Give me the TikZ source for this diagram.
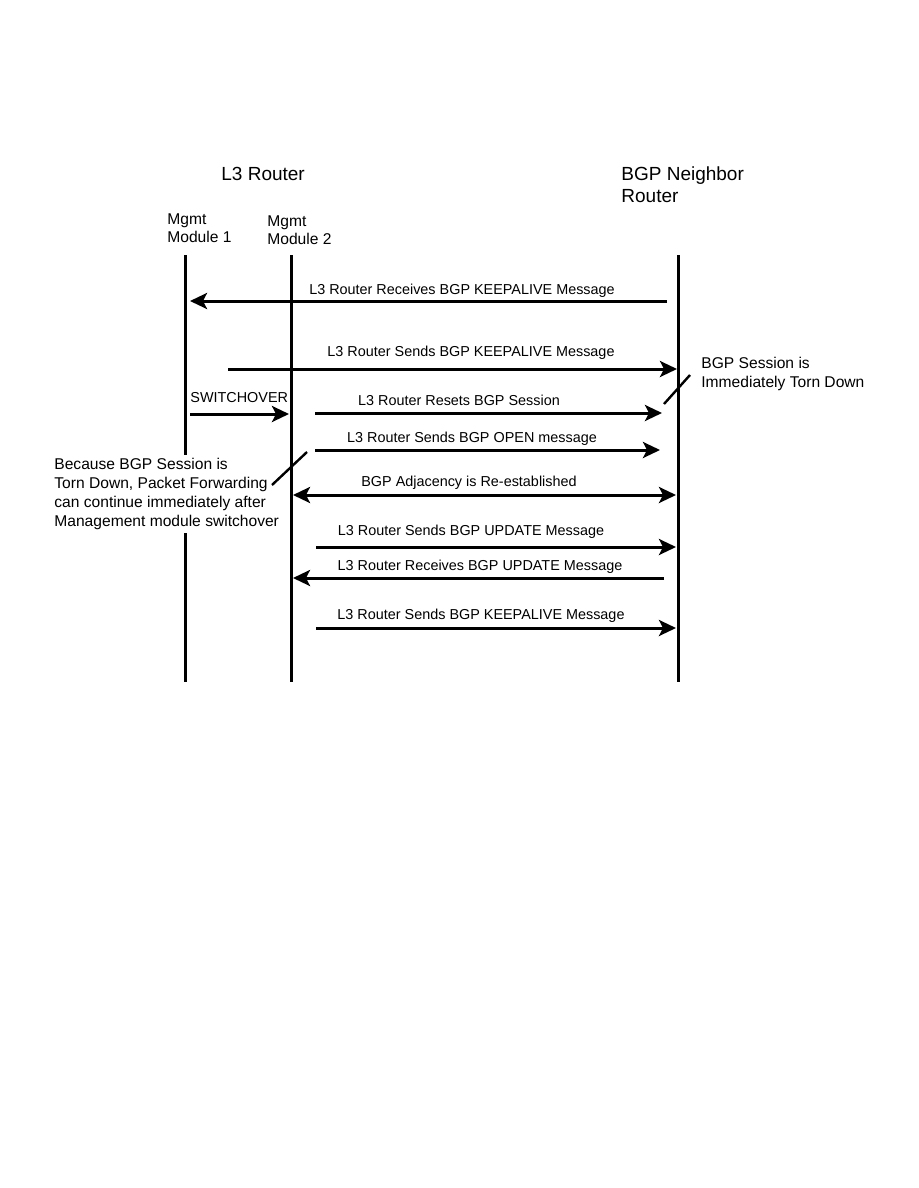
\documentclass[tikz,border=0pt]{standalone}
\usepackage{fontspec}
\setmainfont{Liberation Sans}
\usetikzlibrary{arrows.meta}
\tikzset{
  sq/.style={x=0.5pt, y=-0.5pt},
  s head/.style={anchor=north west, inner sep=0pt, align=left, font=\fontsize{9.5}{11}\selectfont},
  s mod/.style={anchor=north west, inner sep=0pt, align=left, font=\fontsize{7.8}{9}\selectfont},
  s life/.style={line width=1.5pt},
  s msg/.style={line width=1.5pt, -{Stealth[length=8.5pt, width=8pt, inset=2pt]}},
  s both/.style={s msg, {Stealth[length=8.5pt, width=8pt, inset=2pt]}-{Stealth[length=8.5pt, width=8pt, inset=2pt]}},
  s lab/.style={anchor=base, inner sep=0pt, font=\fontsize{7.2}{9}\selectfont},
  s note/.style={anchor=north west, align=left, font=\fontsize{7.8}{9.5}\selectfont},
  s tick/.style={line width=1.2pt},
}
\begin{document}
\begin{tikzpicture}[sq]
\useasboundingbox (0,0) rectangle (918,1188);
% ---- headers ----
\node[s head] (l3r) at (221,167) {L3 Router};
\node[s head] (nbr) at (621,166) {BGP Neighbor\\Router};
\node[s mod] (m1) at (167,213) {Mgmt\\Module 1};
\node[s mod] (m2) at (267,215) {Mgmt\\Module 2};
% ---- lifelines ----
\coordinate (m1t) at (185,255); \coordinate (m1b) at (185,682);
\coordinate (m2t) at (291,255); \coordinate (m2b) at (291,682);
\coordinate (nbt) at (678,255); \coordinate (nbb) at (678,682);
\draw[s life] (m1t)--(m1b); \draw[s life] (m2t)--(m2b); \draw[s life] (nbt)--(nbb);
% ---- keepalive in / out ----
\coordinate (k1a) at (667,301); \coordinate (k1b) at (190,301);
\draw[s msg] (k1a)--(k1b); \node[s lab] (k1) at (462,294) {L3 Router Receives BGP KEEPALIVE Message};
\coordinate (k2a) at (228,369); \coordinate (k2b) at (677,369);
\draw[s msg] (k2a)--(k2b); \node[s lab] (k2) at (471,356) {L3 Router Sends BGP KEEPALIVE Message};
% ---- switchover ----
\coordinate (swa) at (190,414); \coordinate (swb) at (289,414);
\draw[s msg] (swa)--(swb); \node[s lab, anchor=base west] (sw) at (190,402) {SWITCHOVER};
\coordinate (rsa) at (315,413); \coordinate (rsb) at (662,413);
\draw[s msg] (rsa)--(rsb); \node[s lab] (rs) at (459,405) {L3 Router Resets BGP Session};
\coordinate (opa) at (315,450); \coordinate (opb) at (660,450);
\draw[s msg] (opa)--(opb); \node[s lab] (op) at (472,442) {L3 Router Sends BGP OPEN message};
% ---- adjacency and updates ----
\coordinate (adja) at (293,495); \coordinate (adjb) at (676,495);
\draw[s both] (adja)--(adjb); \node[s lab] (adj) at (469,486) {BGP Adjacency is Re-established};
\coordinate (u1a) at (316,547); \coordinate (u1b) at (676,547);
\draw[s msg] (u1a)--(u1b); \node[s lab] (u1) at (471,535) {L3 Router Sends BGP UPDATE Message};
\coordinate (u2a) at (664,578); \coordinate (u2b) at (293,578);
\draw[s msg] (u2a)--(u2b); \node[s lab] (u2) at (480,570) {L3 Router Receives BGP UPDATE Message};
\coordinate (k3a) at (316,628); \coordinate (k3b) at (676,628);
\draw[s msg] (k3a)--(k3b); \node[s lab] (k3) at (481,619) {L3 Router Sends BGP KEEPALIVE Message};
% ---- notes ----
\node[s note, fill=white, inner sep=1.5pt] (why) at (51,455)
  {Because BGP Session is\\Torn Down, Packet Forwarding\\can continue immediately after\\Management module switchover};
\coordinate (w1) at (272,485); \coordinate (w2) at (307,452); \draw[s tick] (w1)--(w2);
\node[s note, inner sep=0pt] (torn) at (701,357) {BGP Session is\\Immediately Torn Down};
\coordinate (t1) at (664,404); \coordinate (t2) at (690,375); \draw[s tick] (t1)--(t2);
\end{tikzpicture}
\end{document}
